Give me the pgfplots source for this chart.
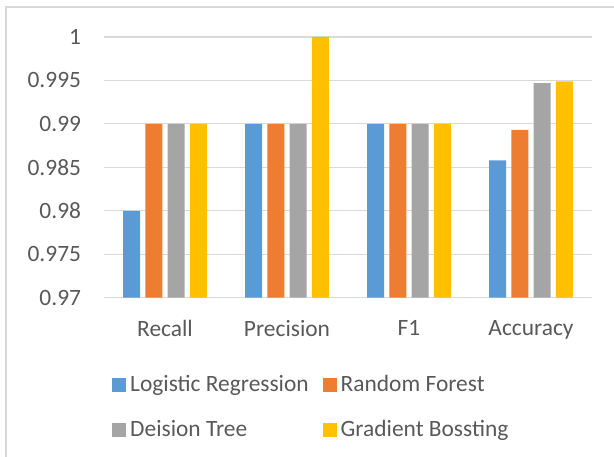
\documentclass[border=0pt]{standalone}
\usepackage{pgfplots}
\pgfplotsset{compat=1.18}
\usepackage{fontspec}
\setmainfont{Carlito}
\definecolor{cLR}{HTML}{5B9BD5}
\definecolor{cRF}{HTML}{ED7D31}
\definecolor{cDT}{HTML}{A5A5A5}
\definecolor{cGB}{HTML}{FFC000}
\definecolor{txt}{HTML}{595959}
\definecolor{grd}{HTML}{D9D9D9}
\begin{document}
\fontsize{23.5}{28}\selectfont
\begin{tikzpicture}[x=1bp,y=1bp]
\path[use as bounding box] (0,0) rectangle (614,457);
\draw[grd, line width=1.2bp] (6,0) -- (6,450) -- (620,450);
\begin{axis}[
  at={(104bp,159.3bp)}, anchor=south west,
  scale only axis, width=488bp, height=260.7bp,
  ybar=5.3bp, bar width=17bp,
  xmin=-0.5, xmax=3.5, ymin=0.97, ymax=1.0,
  xtick={0,1,2,3}, xticklabels={Recall,Precision,F1,Accuracy},
  ytick={0.97,0.975,0.98,0.985,0.99,0.995,1.0},
  yticklabels={0.97,0.975,0.98,0.985,0.99,0.995,1},
  ymajorgrids, grid style={grd, line width=1.2bp},
  axis line style={draw=none},
  major tick length=0pt,
  tick label style={font=\fontsize{23.5}{28}\selectfont, text=txt},
  xticklabel style={yshift=-15bp},
  yticklabel style={xshift=-15bp},
  axis on top=false,
  legend columns=2,
  legend style={at={(0.0103,-0.282)}, anchor=north west, draw=none, fill=none,
    font=\fontsize{23.5}{28}\selectfont, text=txt,
    /tikz/every even column/.append style={column sep=12bp},
    row sep=21bp},
  legend cell align=left,
  legend image code/.code={\fill[#1] (0bp,-7bp) rectangle (14bp,7bp); \path (0bp,0bp) -- (16bp,0bp);},
]
\draw[grd, line width=1.2bp] (axis cs:-0.5,0.97) -- (axis cs:3.5,0.97);
\addplot[fill=cLR, draw=none] coordinates {(0,0.98) (1,0.99) (2,0.99) (3,0.9858)};
\addplot[fill=cRF, draw=none] coordinates {(0,0.99) (1,0.99) (2,0.99) (3,0.9893)};
\addplot[fill=cDT, draw=none] coordinates {(0,0.99) (1,0.99) (2,0.99) (3,0.9947)};
\addplot[fill=cGB, draw=none] coordinates {(0,0.99) (1,1.0) (2,0.99) (3,0.9949)};
\legend{Logistic Regression, Random Forest, Deision Tree, Gradient Bossting}
\end{axis}
\end{tikzpicture}
\end{document}
